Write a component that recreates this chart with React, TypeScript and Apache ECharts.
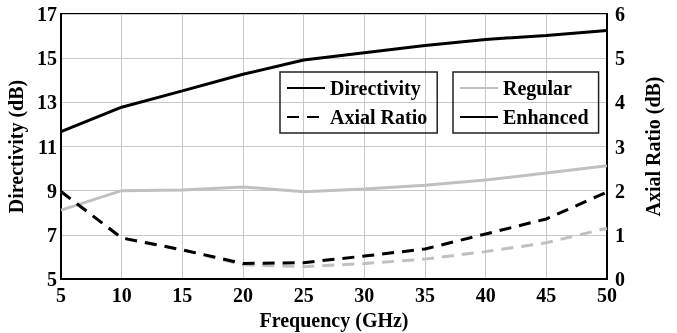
import React, { useEffect, useRef } from "react";
import * as echarts from "echarts";

// Frequency sweep (GHz)
const frequency = [5, 10, 15, 20, 25, 30, 35, 40, 45, 50];
// Directivity (dB), left axis
const directivityRegular = [8.12, 9.0, 9.03, 9.17, 8.95, 9.08, 9.25, 9.48, 9.8, 10.13];
const directivityEnhanced = [11.67, 12.78, 13.52, 14.27, 14.92, 15.25, 15.57, 15.85, 16.03, 16.25];
// Axial ratio (dB), right axis
const axialRegular = [1.98, 0.93, 0.66, 0.32, 0.28, 0.35, 0.45, 0.62, 0.82, 1.15];
const axialEnhanced = [1.98, 0.93, 0.66, 0.35, 0.37, 0.52, 0.68, 1.02, 1.36, 1.97];

const FONT = "Times New Roman";
const GRAY = "#c0c0c0";
const BLACK = "#000000";
const DASH = [12, 8];

const pairs = (ys: number[]) => frequency.map((x, i) => [x, ys[i]]);

const font = { fontFamily: FONT, fontWeight: "bold" as const, fontSize: 20, color: "#000" };

export default function App() {
  const ref = useRef<HTMLDivElement>(null);

  useEffect(() => {
    if (!ref.current) return;
    const chart = echarts.init(ref.current, undefined, { renderer: "svg" });

    const legendBase = {
      orient: "vertical" as const,
      top: 72,
      itemWidth: 38,
      itemHeight: 14,
      itemGap: 9,
      borderColor: "#222",
      borderWidth: 1.5,
      padding: [6, 10, 6, 6],
      textStyle: { ...font },
      itemStyle: { opacity: 0 },
      selectedMode: false,
    };

    const line = (
      name: string,
      data: number[][],
      color: string,
      dashed: boolean,
      yAxisIndex: number
    ) => ({
      name,
      type: "line" as const,
      data,
      yAxisIndex,
      symbol: "none",
      showSymbol: false,
      z: color === BLACK ? 3 : 2,
      lineStyle: { color, width: 3, type: dashed ? DASH : "solid" },
      itemStyle: { color },
    });

    chart.setOption({
      animation: false,
      grid: {
        left: 61,
        right: 70,
        top: 14,
        bottom: 54,
        outerBoundsMode: "none",
        containLabel: false,
        show: true,
        borderColor: "#000",
        borderWidth: 2,
      },
      legend: [
        { ...legendBase, left: 280, data: ["Directivity", "Axial Ratio"] },
        { ...legendBase, left: 453, data: ["Regular", "Enhanced"] },
      ],
      xAxis: {
        type: "value",
        min: 5,
        max: 50,
        interval: 5,
        name: "Frequency (GHz)",
        nameLocation: "middle",
        nameGap: 30,
        nameTextStyle: { ...font },
        axisLine: { show: true, lineStyle: { color: "#000", width: 2 } },
        axisTick: { show: false },
        axisLabel: { ...font, margin: 6 },
        splitLine: { show: true, lineStyle: { color: "#c8c8c8", width: 1 } },
      },
      yAxis: [
        {
          type: "value",
          min: 5,
          max: 17,
          interval: 2,
          name: "Directivity (dB)",
          nameLocation: "middle",
          nameRotate: 90,
          nameGap: 28,
          nameTextStyle: { ...font },
          axisLine: { show: true, lineStyle: { color: "#000", width: 2 } },
          axisTick: { show: false },
          axisLabel: { ...font, margin: 4 },
          splitLine: { show: true, lineStyle: { color: "#c8c8c8", width: 1 } },
        },
        {
          type: "value",
          position: "right",
          min: 0,
          max: 6,
          interval: 1,
          name: "Axial Ratio (dB)",
          nameLocation: "middle",
          nameRotate: 90,
          nameGap: 36,
          nameTextStyle: { ...font },
          axisLine: { show: true, lineStyle: { color: "#000", width: 2 } },
          axisTick: { show: false },
          axisLabel: { ...font, margin: 8 },
          splitLine: { show: false },
        },
      ],
      series: [
        // legend-only entries: line style key and colour key
        line("Directivity", [], BLACK, false, 0),
        line("Axial Ratio", [], BLACK, true, 0),
        line("Regular", [], GRAY, false, 0),
        line("Enhanced", [], BLACK, false, 0),
        // measured curves
        line("dir-reg", pairs(directivityRegular), GRAY, false, 0),
        line("ar-reg", pairs(axialRegular), GRAY, true, 1),
        line("dir-enh", pairs(directivityEnhanced), BLACK, false, 0),
        line("ar-enh", pairs(axialEnhanced), BLACK, true, 1),
      ],
    });

    return () => chart.dispose();
  }, []);

  return <div ref={ref} style={{ position: "fixed", left: 0, top: 0, width: 677, height: 333 }} />;
}
